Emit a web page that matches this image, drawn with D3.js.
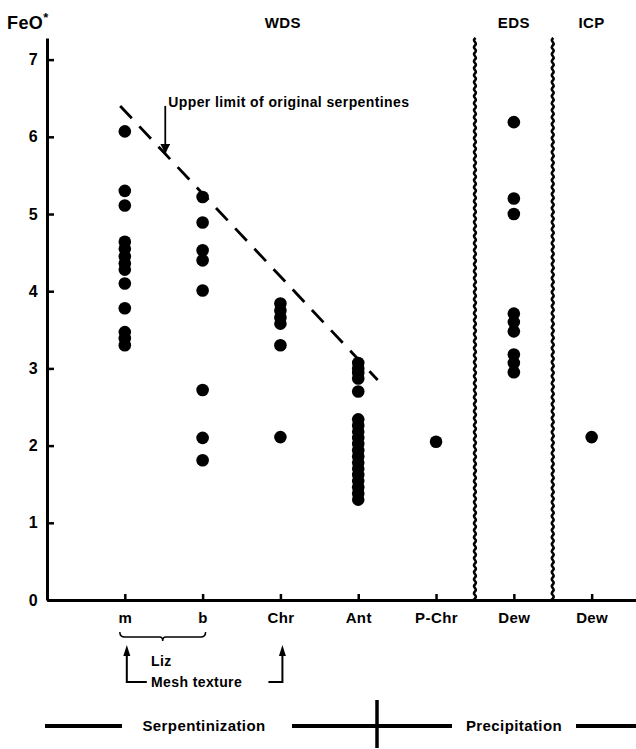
<!DOCTYPE html>
<html>
<head>
<meta charset="utf-8">
<script src="https://cdn.jsdelivr.net/npm/d3@7"></script>
<style>
  body { margin: 0; background: #fff; }
  svg { display: block; }
  text { font-family: "Liberation Sans", Arial, sans-serif; font-weight: bold; fill: #000; letter-spacing: 0.4px; }
</style>
</head>
<body>
<svg id="chart" width="636" height="749"></svg>
<script>
// x categories (positions 1..7 along the axis)
const categories = ["m", "b", "Chr", "Ant", "P-Chr", "Dew", "Dew"];
const methods = ["WDS", "EDS", "ICP"];
const yTicks = [0, 1, 2, 3, 4, 5, 6, 7];

// FeO* values, one array per column
const mValues   = [6.07, 5.30, 5.11, 4.64, 4.55, 4.45, 4.36, 4.28, 4.10, 3.78, 3.47, 3.39, 3.30];
const bValues   = [5.22, 4.89, 4.53, 4.40, 4.01, 2.72, 2.10, 1.81];
const chrValues = [3.84, 3.75, 3.66, 3.58, 3.30, 2.11];
const antValues = [3.07, 3.00, 2.94, 2.87, 2.70, 2.34, 2.26, 2.18, 2.10, 2.02, 1.94, 1.86,
                   1.78, 1.70, 1.62, 1.54, 1.46, 1.38, 1.30];
const pchrValues = [2.05];
const edsValues = [6.19, 5.20, 5.00, 3.71, 3.60, 3.48, 3.18, 3.07, 2.95];
const icpValues = [2.11];

// upper limit of original serpentines (x position, FeO*)
const limitLine = [[0.94, 6.40], [4.25, 2.85]];
const limitArrow = { x: 1.52, from: 6.40, to: 5.78 };

const columns = [mValues, bValues, chrValues, antValues, pchrValues, edsValues, icpValues];

const svg = d3.select("#chart");

const x = d3.scaleLinear().domain([0, 7.57]).range([47, 636]);
const y = d3.scaleLinear().domain([0, 7.28]).range([600, 38]);

///////////////////////////////////////////////////////////////////////////
// Axes
///////////////////////////////////////////////////////////////////////////

const yAxis = svg.append("g")
    .attr("transform", "translate(" + x(0) + ",0)")
    .call(d3.axisLeft(y).tickValues(yTicks).tickSize(-7).tickSizeOuter(0).tickPadding(9)
        .tickFormat(d3.format("d")));

const xAxis = svg.append("g")
    .attr("transform", "translate(0," + y(0) + ")")
    .call(d3.axisBottom(x).tickValues(d3.range(1, 8)).tickSize(-6).tickSizeOuter(0).tickPadding(12)
        .tickFormat(function(d) { return categories[d - 1]; }));

[yAxis, xAxis].forEach(function(g) {
    g.select(".domain").attr("stroke", "#000").attr("stroke-width", 3);
    g.selectAll(".tick line").attr("stroke", "#000").attr("stroke-width", 2.5);
    g.selectAll(".tick text").style("font-size", "15px").attr("fill", "#000");
});
yAxis.selectAll(".tick text").style("font-size", "16px");

// y axis title
let title = svg.append("text").attr("x", 7).attr("y", 29).style("font-size", "18px");
title.append("tspan").text("FeO");
title.append("tspan").attr("dy", -7).style("font-size", "13px").text("*");

// method labels above the panels
const methodPos = [3.03, 6.0, 7.0];
svg.selectAll("text.method")
    .data(methods)
    .enter().append("text")
        .attr("class", "method")
        .attr("x", function(d, i) { return x(methodPos[i]); })
        .attr("y", 28)
        .attr("text-anchor", "middle")
        .style("font-size", "15px")
        .text(function(d) { return d; });

///////////////////////////////////////////////////////////////////////////
// Wavy separators
///////////////////////////////////////////////////////////////////////////

[5.5, 6.5].forEach(function(pos) {
    let pts = d3.range(y(7.28), y(0) + 0.1, 2).map(function(py) {
        return [x(pos) + 1.6 * Math.sin(py / 7 * 2 * Math.PI), py];
    });
    svg.append("path")
        .attr("d", d3.line().curve(d3.curveBasis)(pts))
        .attr("fill", "none")
        .attr("stroke", "#000")
        .attr("stroke-width", 2.6);
});

///////////////////////////////////////////////////////////////////////////
// Data points
///////////////////////////////////////////////////////////////////////////

columns.forEach(function(vals, i) {
    svg.append("g").selectAll("circle")
        .data(vals)
        .enter().append("circle")
            .attr("cx", x(i + 1))
            .attr("cy", function(d) { return y(d); })
            .attr("r", 6.3)
            .attr("fill", "#000");
});

///////////////////////////////////////////////////////////////////////////
// Upper limit line + arrow
///////////////////////////////////////////////////////////////////////////

svg.append("path")
    .attr("d", d3.line().x(function(d) { return x(d[0]); }).y(function(d) { return y(d[1]); })(limitLine))
    .attr("stroke", "#000")
    .attr("stroke-width", 2.8)
    .attr("stroke-dasharray", "17,11")
    .attr("fill", "none");

svg.append("defs").append("marker")
    .attr("id", "tip")
    .attr("viewBox", "0 0 10 10")
    .attr("refX", 10).attr("refY", 5)
    .attr("markerWidth", 10).attr("markerHeight", 10)
    .attr("markerUnits", "userSpaceOnUse")
    .attr("orient", "auto")
  .append("path")
    .attr("d", "M0,0L10,5L0,10z")
    .attr("fill", "#000");

function arrow(x1, y1, x2, y2) {
    svg.append("line")
        .attr("x1", x1).attr("y1", y1).attr("x2", x2).attr("y2", y2)
        .attr("stroke", "#000").attr("stroke-width", 1.8)
        .attr("marker-end", "url(#tip)");
}

arrow(x(limitArrow.x), y(limitArrow.from), x(limitArrow.x), y(limitArrow.to));

svg.append("text")
    .attr("x", x(limitArrow.x) + 3)
    .attr("y", y(limitArrow.from) + 1)
    .style("font-size", "14px")
    .text("Upper limit of original serpentines");

///////////////////////////////////////////////////////////////////////////
// Annotations under the axis
///////////////////////////////////////////////////////////////////////////

// brace under m and b
let bx0 = x(1) - 5, bx1 = x(2) + 3, bm = (bx0 + bx1) / 2, by = 632;
svg.append("path")
    .attr("d", "M" + bx0 + "," + by + "q0,5 5,5H" + (bm - 3) + "q3,0 3,4q0,-4 3,-4H" + (bx1 - 5) + "q5,0 5,-5")
    .attr("fill", "none")
    .attr("stroke", "#000")
    .attr("stroke-width", 1.5);

// mesh texture arrows
let ax0 = x(1) + 2, ax1 = x(3) + 2;
svg.append("path")
    .attr("d", "M" + (ax0 + 20) + ",682H" + ax0 + "V652")
    .attr("fill", "none").attr("stroke", "#000").attr("stroke-width", 2);
svg.append("path")
    .attr("d", "M" + (ax1 - 14) + ",682H" + ax1 + "V652")
    .attr("fill", "none").attr("stroke", "#000").attr("stroke-width", 2);
[ax0, ax1].forEach(function(px) {
    svg.append("path")
        .attr("d", "M" + (px - 3.5) + ",656L" + px + ",645L" + (px + 3.5) + ",656z")
        .attr("fill", "#000");
});

svg.append("text").attr("x", 151).attr("y", 666).style("font-size", "14px").text("Liz");
svg.append("text").attr("x", 151).attr("y", 687).style("font-size", "14px").text("Mesh texture");

// process bar
const rowY = 726;
[[45, 122], [292, 452], [576, 636]].forEach(function(seg) {
    svg.append("line")
        .attr("x1", seg[0]).attr("x2", seg[1]).attr("y1", rowY).attr("y2", rowY)
        .attr("stroke", "#000").attr("stroke-width", 4);
});
svg.append("line")
    .attr("x1", 377).attr("x2", 377).attr("y1", 700).attr("y2", 748)
    .attr("stroke", "#000").attr("stroke-width", 3.5);
svg.append("text").attr("x", 204).attr("y", rowY + 5).attr("text-anchor", "middle")
    .style("font-size", "15px").text("Serpentinization");
svg.append("text").attr("x", 514).attr("y", rowY + 5).attr("text-anchor", "middle")
    .style("font-size", "15px").text("Precipitation");
</script>
</body>
</html>
